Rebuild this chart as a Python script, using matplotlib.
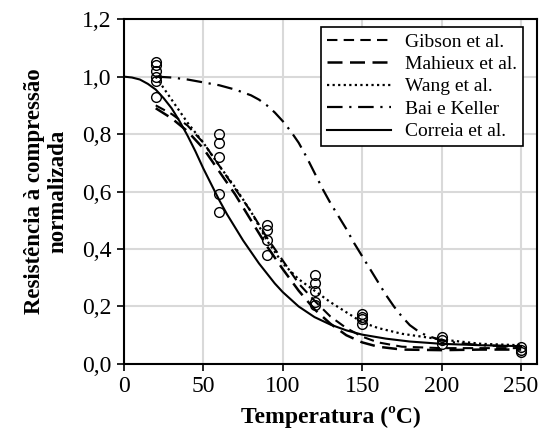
import matplotlib
matplotlib.use("Agg")
import matplotlib.pyplot as plt

# experimental points (temperature, normalized strength)
exp_T = [20, 20, 20, 20, 20, 20,
         60, 60, 60, 60, 60,
         90, 90, 90, 90,
         120, 120, 120, 120, 120,
         150, 150, 150, 150,
         200, 200, 200,
         250, 250, 250]
exp_v = [1.05, 1.04, 1.02, 1.00, 0.985, 0.93,
         0.80, 0.77, 0.72, 0.59, 0.53,
         0.485, 0.465, 0.43, 0.38,
         0.31, 0.28, 0.255, 0.215, 0.205,
         0.175, 0.165, 0.155, 0.14,
         0.095, 0.085, 0.07,
         0.06, 0.05, 0.04]

# model curves
T_models = [20, 30, 40, 50, 60, 70, 80, 90, 100, 110, 120, 130, 140, 150, 160, 175, 200, 225, 250]
gibson = [0.90, 0.87, 0.83, 0.77, 0.69, 0.61, 0.53, 0.44, 0.36, 0.28, 0.22, 0.165, 0.125, 0.095, 0.075, 0.06, 0.055, 0.055, 0.055]
mahieux = [0.89, 0.855, 0.81, 0.75, 0.67, 0.59, 0.50, 0.41, 0.33, 0.255, 0.19, 0.14, 0.10, 0.075, 0.06, 0.05, 0.048, 0.05, 0.05]
wang = [1.00, 0.92, 0.84, 0.77, 0.69, 0.615, 0.53, 0.43, 0.35, 0.295, 0.255, 0.215, 0.18, 0.145, 0.125, 0.105, 0.085, 0.07, 0.065]

T_bai = [20, 30, 40, 50, 60, 70, 80, 85, 90, 95, 100, 105, 110, 115, 120, 125, 130, 135, 140, 145, 150,
         155, 160, 165, 170, 175, 180, 185, 190, 200, 210, 225, 250]
bai = [1.00, 0.997, 0.99, 0.98, 0.97, 0.955, 0.935, 0.92, 0.90, 0.875, 0.845, 0.81, 0.77, 0.72, 0.665, 0.61,
       0.56, 0.515, 0.47, 0.42, 0.375, 0.33, 0.285, 0.24, 0.20, 0.165, 0.135, 0.115, 0.10, 0.082, 0.073, 0.065, 0.06]

T_correia = [0, 5, 10, 15, 20, 25, 30, 35, 40, 45, 50, 55, 60, 65, 70, 75, 80, 85, 90, 95, 100,
             110, 120, 130, 140, 150, 165, 180, 200, 225, 250]
correia = [1.00, 0.997, 0.99, 0.975, 0.955, 0.925, 0.89, 0.845, 0.795, 0.74, 0.68, 0.625, 0.57, 0.52, 0.475,
           0.43, 0.39, 0.35, 0.315, 0.28, 0.25, 0.2, 0.163, 0.137, 0.117, 0.102, 0.088, 0.078, 0.07, 0.065, 0.062]

x_ticks = [0, 50, 100, 150, 200, 250]
y_ticks = [0.0, 0.2, 0.4, 0.6, 0.8, 1.0, 1.2]

plt.rcParams['font.family'] = ['Liberation Serif', 'DejaVu Serif']

fig = plt.figure(figsize=(5.39, 4.46), dpi=100)
ax = fig.add_axes([0.230, 0.184, 0.766, 0.773])

ax.plot(T_models, gibson, color='black', lw=1.5, ls=(0, (5, 3)), label='Gibson et al.')
ax.plot(T_models, mahieux, color='black', lw=1.8, ls=(0, (6, 3)), label='Mahieux et al.')
ax.plot(T_models, wang, color='black', lw=1.6, ls=(0, (1, 1.5)), label='Wang et al.')
ax.plot(T_bai, bai, color='black', lw=1.6, ls=(0, (7, 3, 1, 3)), label='Bai e Keller')
ax.plot(T_correia, correia, color='black', lw=1.5, ls='-', label='Correia et al.')
ax.plot(exp_T, exp_v, ls='none', marker='o', ms=7, mfc='none', mec='black', mew=1.0)

ax.set_xlim(0, 260)
ax.set_ylim(0, 1.2)
ax.set_xticks(x_ticks)
ax.set_yticks(y_ticks)
ax.set_yticklabels([f"{v:.1f}".replace('.', ',') for v in y_ticks])
ax.tick_params(direction='out', length=5, width=1.2, labelsize=17, colors='black', pad=4)
ax.grid(True, color='#d9d9d9', lw=1.5)
ax.set_axisbelow(True)
for s in ax.spines.values():
    s.set_linewidth(1.5)
    s.set_color('black')

ax.set_xlabel('Temperatura (ºC)', fontsize=17, fontweight='bold', labelpad=6)
ax.set_ylabel('Resistência à compressão\nnormalizada', fontsize=16.5, fontweight='bold', labelpad=10,
              linespacing=1.15)

leg = ax.legend(loc='upper right', bbox_to_anchor=(0.966, 0.977), fontsize=14, frameon=True,
                fancybox=False, edgecolor='black', framealpha=1, handlelength=3.3,
                borderpad=0.3, labelspacing=0.25, handletextpad=0.7, borderaxespad=0)
leg.get_frame().set_linewidth(1.2)

fig.savefig('out.png', dpi=100)
